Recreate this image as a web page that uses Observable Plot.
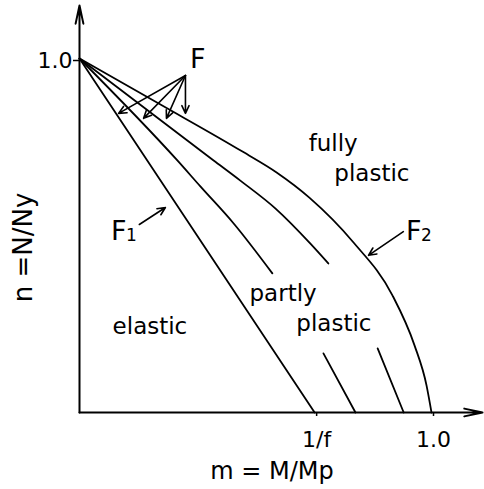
<!DOCTYPE html>
<html>
<head>
<meta charset="utf-8">
<script src="https://cdn.jsdelivr.net/npm/d3@7"></script>
<script src="https://cdn.jsdelivr.net/npm/@observablehq/plot@0.6"></script>
<style>
  html, body { margin: 0; padding: 0; background: #fff; }
  g[aria-label="region labels"] text { letter-spacing: 1.5px; }
  g[aria-label="x label"] text { letter-spacing: 4px; }
  g[aria-label="y label"] text { letter-spacing: 1px; }
</style>
</head>
<body>
<script>
// Interaction curves (m = M/Mp, n = N/Ny); null = gap where text sits
const f1M = [0, 0.668];
const f1N = [1, 0];
const c2M = [0, 0.278, 0.344, 0.438, 0.548, null, 0.693, 0.784];
const c2N = [1, 0.712, 0.638, 0.534, 0.393, null, 0.167, 0];
const c3M = [0, 0.381, 0.457, 0.557, 0.656, 0.707, null, 0.847, 0.921];
const c3N = [1, 0.712, 0.655, 0.576, 0.477, 0.421, null, 0.181, 0];
const f2M = [0, 0.230, 0.463, 0.560, 0.653, 0.776, 0.889, 0.952, 0.986, 1.0];
const f2N = [1, 0.870, 0.737, 0.678, 0.607, 0.483, 0.331, 0.189, 0.076, 0];

// Axis ticks
const xTicks = [0.668, 1.0];
const xTickLabels = ["1/f", "1.0"];
const yTicks = [1.0];
const yTickLabels = ["1.0"];
const xLabel = "m = M/Mp";
const yLabel = "n =N/Ny";

// Region labels
const regionText = ["fully", "plastic", "elastic", "partly", "plastic"];
const regionM = [0.651, 0.724, 0.094, 0.483, 0.616];
const regionN = [0.740, 0.655, 0.223, 0.314, 0.229];

// F labels
const fText = ["F", "F", "F"];
const fSub = ["", "1", "2"];
const fM = [0.3136, 0.0892, 0.9273];
const fN = [0.972, 0.486, 0.486];

// Pointer arrows
const arrM1 = [0.301, 0.301, 0.301, 0.301, 0.170, 0.920];
const arrN1 = [0.952, 0.952, 0.952, 0.952, 0.531, 0.511];
const arrM2 = [0.111, 0.182, 0.247, 0.301, 0.244, 0.821];
const arrN2 = [0.845, 0.831, 0.831, 0.845, 0.579, 0.444];

// Build tables
const curves = [];
[["F1", f1M, f1N], ["c2", c2M, c2N], ["c3", c3M, c3N], ["F2", f2M, f2N]].forEach(([id, M, N]) => {
  M.forEach((m, i) => curves.push({id, m, n: N[i]}));
});
const regions = regionText.map((t, i) => ({t, m: regionM[i], n: regionN[i]}));
const fLabels = fText.map((t, i) => ({t, sub: fSub[i], m: fM[i], n: fN[i]}));
const arrows = arrM1.map((m, i) => ({m1: m, n1: arrN1[i], m2: arrM2[i], n2: arrN2[i]}));
const axes = [{m1: 0, n1: 0, m2: 0, n2: 1.15}, {m1: 0, n1: 0, m2: 1.145, n2: 0}];

const chart = Plot.plot({
  width: 484,
  height: 489,
  marginLeft: 79,
  marginRight: 0,
  marginTop: 0,
  marginBottom: 77,
  style: {fontFamily: "DejaVu Sans", background: "#fff", color: "#000"},
  x: {domain: [0, 405 / 352], axis: null},
  y: {domain: [0, 412 / 354], axis: null},
  marks: [
    Plot.arrow(axes, {x1: "m1", y1: "n1", x2: "m2", y2: "n2", stroke: "#000", strokeWidth: 2, headLength: 14, headAngle: 24}),
    Plot.axisX({ticks: xTicks, tickFormat: d => xTickLabels[xTicks.indexOf(d)], tickSize: 4, tickPadding: 15, fontSize: 22, label: null, dx: 2, stroke: "#000", strokeWidth: 1.5}),
    Plot.axisY({ticks: yTicks, tickFormat: d => yTickLabels[yTicks.indexOf(d)], tickSize: 6, tickPadding: 1, fontSize: 22, label: null, dy: 2, stroke: "#000", strokeWidth: 1.5}),
    Plot.line(curves, {x: "m", y: "n", z: "id", curve: "monotone-x", stroke: "#000", strokeWidth: 1.8}),
    Plot.arrow(arrows, {x1: "m1", y1: "n1", x2: "m2", y2: "n2", stroke: "#000", strokeWidth: 1.6, headLength: 8, headAngle: 50}),
    Plot.text(regions, {x: "m", y: "n", text: "t", textAnchor: "start", lineAnchor: "bottom", fontSize: 23, fill: "#000", ariaLabel: "region labels"}),
    Plot.text(fLabels, {x: "m", y: "n", text: "t", textAnchor: "start", lineAnchor: "bottom", fontSize: 27, fill: "#000"}),
    Plot.text(fLabels, {x: "m", y: "n", text: "sub", textAnchor: "start", lineAnchor: "bottom", fontSize: 17, dx: 15, dy: 1, fill: "#000"}),
    Plot.text([xLabel], {text: d => d, frameAnchor: "bottom", textAnchor: "middle", lineAnchor: "bottom", dx: -10, dy: 66, fontSize: 24, fill: "#000", ariaLabel: "x label"}),
    Plot.text([yLabel], {text: d => d, frameAnchor: "left", textAnchor: "middle", lineAnchor: "bottom", rotate: -90, dx: -48, dy: 41, fontSize: 26, fill: "#000", ariaLabel: "y label"})
  ]
});
document.body.appendChild(chart);
</script>
</body>
</html>
